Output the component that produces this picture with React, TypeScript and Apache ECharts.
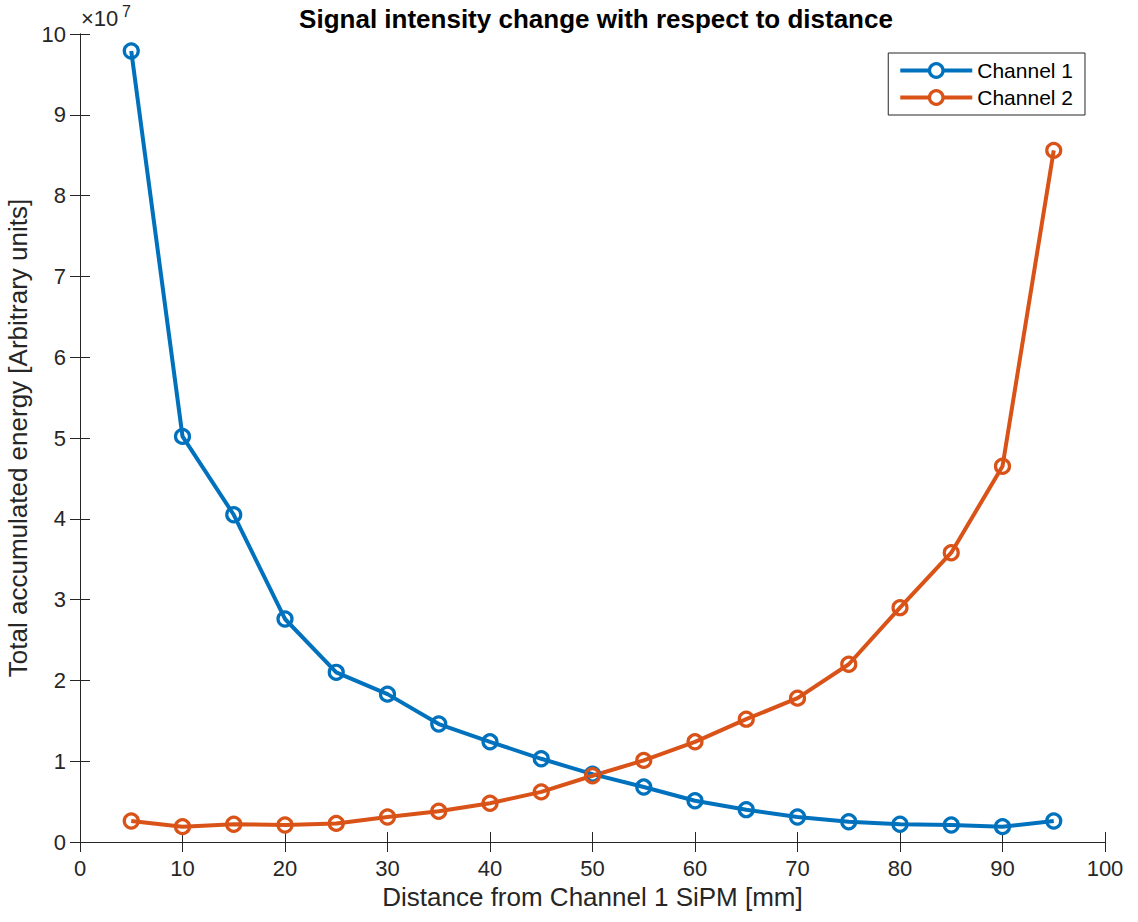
import React, { useEffect, useRef } from "react";
import * as echarts from "echarts";

const distances = [5, 10, 15, 20, 25, 30, 35, 40, 45, 50, 55, 60, 65, 70, 75, 80, 85, 90, 95];
const channel1 = [9.79e7, 5.02e7, 4.05e7, 2.76e7, 2.1e7, 1.83e7, 1.46e7, 1.24e7, 1.03e7, 0.84e7, 0.68e7, 0.51e7, 0.4e7, 0.31e7, 0.25e7, 0.22e7, 0.21e7, 0.19e7, 0.26e7];
const channel2 = [0.26e7, 0.19e7, 0.22e7, 0.21e7, 0.23e7, 0.31e7, 0.38e7, 0.48e7, 0.62e7, 0.82e7, 1.01e7, 1.24e7, 1.52e7, 1.78e7, 2.2e7, 2.9e7, 3.58e7, 4.65e7, 8.56e7];
const seriesNames = ["Channel 1", "Channel 2"];
const colors = ["#0072BD", "#D95319"];

const FONT = "'Liberation Sans', Arial, Helvetica, sans-serif";
const AX = "#262626";

export default function App() {
  const ref = useRef<HTMLDivElement>(null);
  useEffect(() => {
    const chart = echarts.init(ref.current!, null, { renderer: "svg" });
    const axisCommon = {
      axisLine: { show: true, lineStyle: { color: AX, width: 1 } },
      axisTick: { show: true, inside: true, length: 10, lineStyle: { color: AX, width: 1 } },
      splitLine: { show: false },
    };
    const mk = (name: string, data: number[], color: string) => ({
      name,
      type: "line",
      data: distances.map((d, i) => [d, data[i]]),
      symbol: "circle",
      symbolSize: 14,
      showAllSymbol: true,
      lineStyle: { color, width: 4 },
      itemStyle: { color: "rgba(255,255,255,0)", borderColor: color, borderWidth: 3.2 },
      z: 3,
    });
    chart.setOption({
      animation: false,
      backgroundColor: "#ffffff",
      textStyle: { fontFamily: FONT },
      title: {
        text: "Signal intensity change with respect to distance",
        left: 591,
        top: 1,
        textAlign: "center",
        textStyle: { fontFamily: FONT, fontSize: 26, fontWeight: "bold", color: "#000" },
      },
      legend: {
        data: seriesNames.map((n, i) => ({
          name: n,
          itemStyle: { color: "#fff", borderColor: colors[i], borderWidth: 3.2 },
          lineStyle: { color: colors[i], width: 4 },
        })),
        right: 53,
        top: 53,
        orient: "vertical",
        itemWidth: 72,
        itemHeight: 17,
        itemGap: 6,
        padding: [7, 12, 7, 10],
        borderColor: "#262626",
        borderWidth: 1,
        backgroundColor: "#fff",
        textStyle: { fontFamily: FONT, fontSize: 21, color: "#000" },
      },
      grid: { left: 80, right: 33, top: 34, bottom: 80, containLabel: false, outerBoundsMode: "none" },
      xAxis: [
        {
          type: "value",
          min: 0,
          max: 100,
          interval: 10,
          name: "Distance from Channel 1 SiPM [mm]",
          nameLocation: "middle",
          nameGap: 42,
          nameTextStyle: { fontFamily: FONT, fontSize: 26, color: AX },
          axisLabel: { fontFamily: FONT, fontSize: 22, color: AX, margin: 15 },
          ...axisCommon,
        },
        {
          type: "value",
          min: 0,
          max: 100,
          interval: 10,
          position: "top",
          axisLabel: { show: false },
          ...axisCommon,
        },
      ],
      yAxis: [
        {
          type: "value",
          min: 0,
          max: 1e8,
          interval: 1e7,
          name: "Total accumulated energy [Arbitrary units]",
          nameLocation: "middle",
          nameGap: 48,
          nameTextStyle: { fontFamily: FONT, fontSize: 26, color: AX },
          axisLabel: {
            fontFamily: FONT,
            fontSize: 22,
            color: AX,
            margin: 14,
            formatter: (v: number) => String(Math.round(v / 1e7)),
          },
          ...axisCommon,
        },
        {
          type: "value",
          min: 0,
          max: 1e8,
          interval: 1e7,
          position: "right",
          axisLabel: { show: false },
          ...axisCommon,
        },
      ],
      graphic: [
        {
          type: "text",
          x: 81,
          y: 7,
          style: { text: "×10", fontFamily: FONT, fontSize: 22, fill: AX },
        },
        {
          type: "text",
          x: 122,
          y: 3,
          style: { text: "7", fontFamily: FONT, fontSize: 16, fill: AX },
        },
      ],
      series: [mk(seriesNames[0], channel1, colors[0]), mk(seriesNames[1], channel2, colors[1])],
    });
    return () => chart.dispose();
  }, []);
  return <div ref={ref} style={{ position: "fixed", left: 0, top: 0, width: 1138, height: 922 }} />;
}
